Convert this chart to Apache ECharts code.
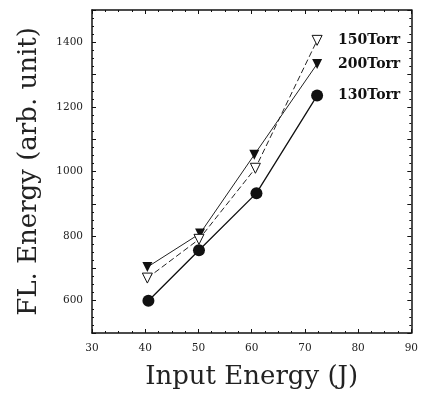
<!DOCTYPE html>
<html>
<head>
<meta charset="utf-8">
<script src="https://cdn.jsdelivr.net/npm/echarts@6/dist/echarts.min.js"></script>
<style>
  html, body { margin: 0; padding: 0; background: #fff; }
  #chart { width: 421px; height: 407px; }
</style>
</head>
<body>
<div id="chart"></div>
<script>
// data
const names = ['130Torr', '200Torr', '150Torr'];
const x130 = [40.6, 50.1, 60.9, 72.3];
const y130 = [600, 756, 933, 1235];
const x200 = [40.4, 50.3, 60.5, 72.3];
const y200 = [704, 808, 1052, 1333];
const x150 = [40.4, 50.1, 60.7, 72.3];
const y150 = [670, 790, 1010, 1406];

const serif = 'DejaVu Serif';
const pair = (xs, ys) => xs.map((x, i) => [x, ys[i]]);

const chart = echarts.init(document.getElementById('chart'));

const axisBase = {
  axisLine: {lineStyle: {color: '#111', width: 1.5}},
  axisTick: {inside: true, length: 4, lineStyle: {color: '#111'}},
  minorTick: {show: true, splitNumber: 4, length: 2, lineStyle: {color: '#111'}},
  splitLine: {show: false}
};

const endLabel = {
  show: true,
  formatter: '{a}',
  distance: 21,
  fontFamily: serif,
  fontWeight: 'bold',
  fontSize: 14,
  color: '#111'
};

const option = {
  animation: false,
  grid: {left: 92, right: 7, top: 10, bottom: 74},
  xAxis: [
    Object.assign({}, axisBase, {
      type: 'value', min: 30, max: 90, interval: 10,
      name: 'Input Energy (J)', nameLocation: 'middle', nameGap: 31,
      nameTextStyle: {fontFamily: serif, fontSize: 26, color: '#222'},
      axisLabel: {fontFamily: serif, fontSize: 10.5, color: '#222', margin: 10}
    }),
    Object.assign({}, axisBase, {
      type: 'value', min: 30, max: 90, interval: 10, position: 'top',
      axisLabel: {show: false}
    })
  ],
  yAxis: [
    Object.assign({}, axisBase, {
      type: 'value', min: 500, max: 1500, interval: 100,
      name: 'FL. Energy (arb. unit)', nameLocation: 'middle', nameGap: 50,
      nameTextStyle: {fontFamily: serif, fontSize: 26, color: '#222'},
      axisLabel: {
        fontFamily: serif, fontSize: 10.5, color: '#222', margin: 9,
        formatter: v => (v % 200 === 0 && v >= 600 && v <= 1400) ? String(v) : ''
      }
    }),
    Object.assign({}, axisBase, {
      type: 'value', min: 500, max: 1500, interval: 100, position: 'right',
      axisLabel: {show: false}
    })
  ],
  series: [
    {
      name: names[0], type: 'line', data: pair(x130, y130),
      symbol: 'circle', symbolSize: 12,
      lineStyle: {color: '#111', width: 1.3},
      itemStyle: {color: '#111'},
      endLabel: endLabel
    },
    {
      name: names[1], type: 'line', data: pair(x200, y200),
      symbol: 'triangle', symbolSize: 10, symbolRotate: 180,
      lineStyle: {color: '#222', width: 1},
      itemStyle: {color: '#111'},
      endLabel: endLabel
    },
    {
      name: names[2], type: 'line', data: pair(x150, y150),
      symbol: 'triangle', symbolSize: 10, symbolRotate: 180,
      lineStyle: {color: '#222', width: 1, type: [6, 3]},
      itemStyle: {color: '#fff', borderColor: '#111', borderWidth: 1},
      endLabel: endLabel
    }
  ]
};

chart.setOption(option);
</script>
</body>
</html>
